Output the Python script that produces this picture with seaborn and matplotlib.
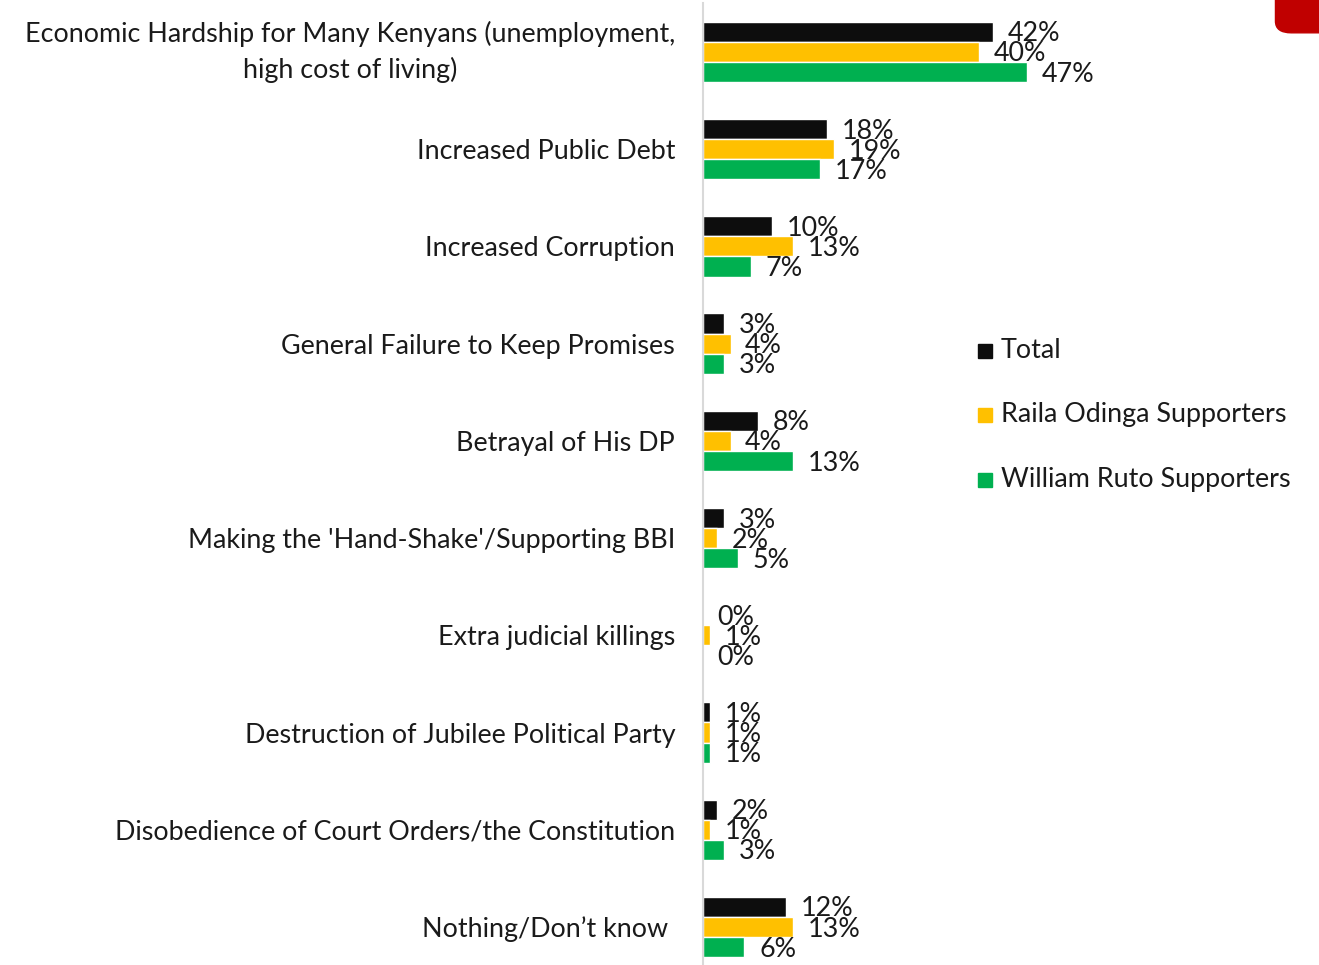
import pandas as pd
import matplotlib
matplotlib.use("Agg")
import matplotlib.pyplot as plt
import matplotlib.transforms as mtransforms
import seaborn as sns
from matplotlib.patches import FancyBboxPatch

# Data
categories = [
    "Economic Hardship for Many Kenyans (unemployment,\nhigh cost of living)",
    "Increased Public Debt",
    "Increased Corruption",
    "General Failure to Keep Promises",
    "Betrayal of His DP",
    "Making the 'Hand-Shake'/Supporting BBI",
    "Extra judicial killings",
    "Destruction of Jubilee Political Party",
    "Disobedience of Court Orders/the Constitution",
    "Nothing/Don\u2019t know ",
]
series = ["Total", "Raila Odinga Supporters", "William Ruto Supporters"]
total = [42, 18, 10, 3, 8, 3, 0, 1, 2, 12]
raila = [40, 19, 13, 4, 4, 2, 1, 1, 1, 13]
ruto = [47, 17, 7, 3, 13, 5, 0, 1, 3, 6]
colors = ["#0D0D0D", "#FFC000", "#00B050"]

rows = []
for name, vals in zip(series, [total, raila, ruto]):
    for cat, v in zip(categories, vals):
        rows.append({"Category": cat, "Group": name, "Value": v})
df = pd.DataFrame(rows)

sns.set_style("white")
plt.rcParams["font.family"] = ["Lato", "DejaVu Sans"]
FS = 19.4

fig = plt.figure(figsize=(13.19, 9.65), dpi=100)
ax = fig.add_axes([0.533, -0.011, 0.2616, 1.0076])

sns.barplot(data=df, y="Category", x="Value", hue="Group", palette=colors,
            order=categories, hue_order=series, orient="h", width=0.62,
            gap=0, ax=ax, legend=False, saturation=1)

ax.set_xlim(0, 50)
ax.set_ylim(9.5, -0.5)
ax.set_xlabel("")
ax.set_ylabel("")
ax.set_xticks([])
ax.tick_params(axis="y", length=0, pad=20, labelsize=FS, labelcolor="#1A1A1A")
shift_up = mtransforms.ScaledTranslation(0, 5 / 72, fig.dpi_scale_trans)
for lbl in ax.get_yticklabels():
    lbl.set_ha("right")
    lbl.set_multialignment("center")
    lbl.set_linespacing(1.45)
    if "\n" in lbl.get_text():
        lbl.set_transform(lbl.get_transform() + shift_up)
for s in ["top", "right", "bottom"]:
    ax.spines[s].set_visible(False)
ax.spines["left"].set_color("#D9D9D9")
ax.spines["left"].set_linewidth(1.5)

# value labels
for cont in ax.containers:
    for bar in cont:
        w = bar.get_width()
        y = bar.get_y() + bar.get_height() / 2
        ax.annotate(f"{w:.0f}%", xy=(w, y), xytext=(10.5, -1.5),
                    textcoords="offset points", ha="left", va="center",
                    fontsize=FS, color="#1A1A1A")

# legend
leg_y = [0.637, 0.570, 0.503]
for name, c, yy in zip(series, colors, leg_y):
    fig.patches.append(plt.Rectangle((0.7415, yy - 0.0075), 0.0106, 0.0145,
                                     transform=fig.transFigure, color=c))
    fig.text(0.759, yy, name, fontsize=FS, va="center", ha="left", color="#1A1A1A")

# red corner shape
fig.patches.append(FancyBboxPatch((0.967, 0.966), 0.06, 0.06,
                                  boxstyle="round,pad=0,rounding_size=0.012",
                                  transform=fig.transFigure, color="#C00000"))

fig.savefig("out.png", dpi=100)
